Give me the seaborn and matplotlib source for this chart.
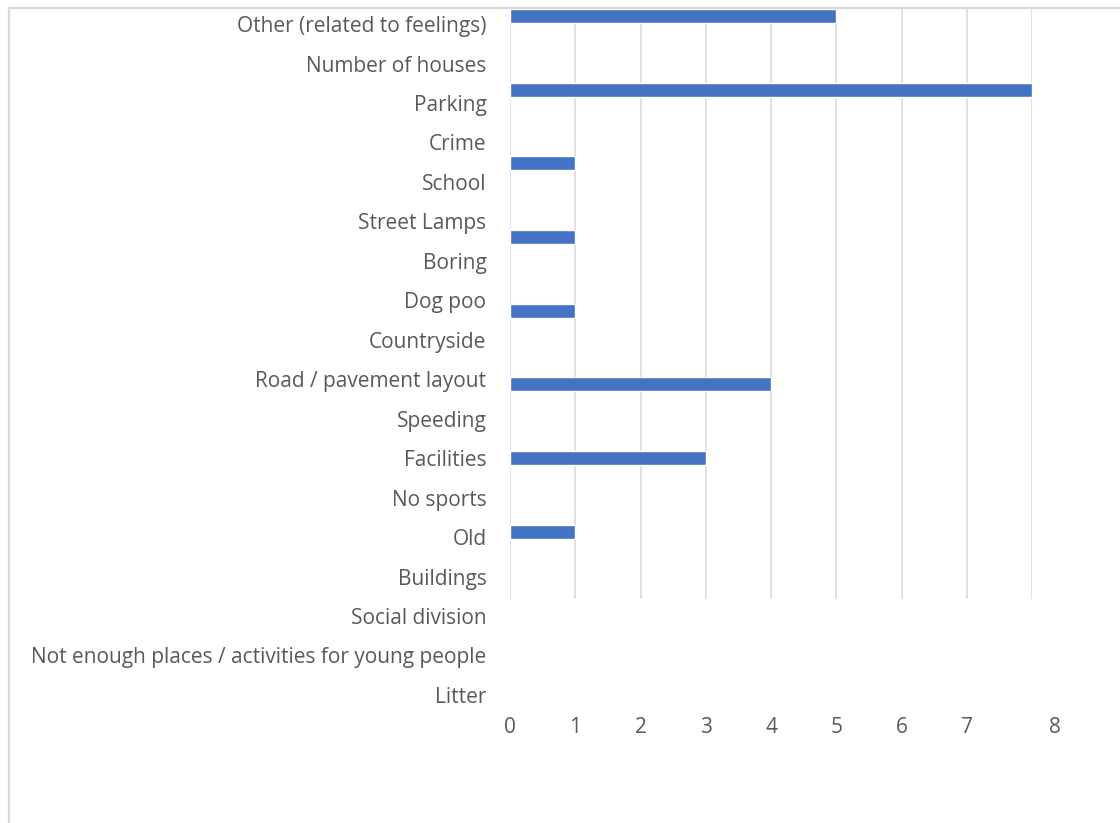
import matplotlib
matplotlib.use('Agg')
import matplotlib.transforms as mtransforms
import pandas as pd
import seaborn as sns
from matplotlib import pyplot as plt
from matplotlib.lines import Line2D

labels = ['Other (related to feelings)', 'Number of houses', 'Parking', 'Crime', 'School',
          'Street Lamps', 'Boring', 'Dog poo', 'Countryside', 'Road / pavement layout',
          'Speeding', 'Facilities', 'No sports', 'Old', 'Buildings', 'Social division',
          'Not enough places / activities for young people', 'Litter']
counts = [5, 0, 8, 0, 1, 1, 0, 1, 0, 4, 0, 3, 0, 1, 0, 0, 0, 0]
x_ticks = [0, 1, 2, 3, 4, 5, 6, 7, 8]

BAR = '#4472C4'
GRID = '#D9D9D9'
TEXT = '#595959'

df = pd.DataFrame({'label': labels, 'count': counts})
drawn = df[df['count'] > 0]

sns.set_theme(style='white')
plt.rcParams['font.family'] = ['Open Sans', 'DejaVu Sans']

W, H = 1120, 823
fig = plt.figure(figsize=(W / 100, H / 100), dpi=100)

def frac(left, top, right, bottom):
    return [left / W, 1 - bottom / H, (right - left) / W, (bottom - top) / H]

# bars (the rendering puts them on their own, wider band spacing)
ax = fig.add_axes(frac(510, 8, 1032, 599))
sns.barplot(data=drawn, x='count', y='label', color=BAR, saturation=1,
            width=0.19, ax=ax, zorder=3)
ax.set_xlim(0, 8)
ax.set_ylim(7.913, -0.106)
ax.set_xticks(x_ticks)
ax.grid(axis='x', color=GRID, linewidth=1.1, zorder=0)
ax.set_axisbelow(True)
ax.set_yticks([])
ax.set_xticklabels([])
ax.set_xlabel('')
ax.set_ylabel('')
ax.tick_params(length=0)
for s in ax.spines.values():
    s.set_visible(False)

# category labels and value axis labels
lab = fig.add_axes(frac(510, 4.3, 1032, 714.7))
lab.patch.set_visible(False)
lab.set_xlim(0, 8)
lab.set_ylim(len(labels) - 0.5, -0.5)
lab.set_yticks(range(len(labels)), labels)
lab.set_xticks(x_ticks, [str(t) for t in x_ticks])
lab.tick_params(axis='y', length=0, pad=17, labelsize=15, labelcolor=TEXT)
lab.tick_params(axis='x', length=0, pad=2, labelsize=15, labelcolor=TEXT)
for s in lab.spines.values():
    s.set_visible(False)
last = lab.get_xticklabels()[-1]
last.set_transform(last.get_transform() +
                   mtransforms.ScaledTranslation(0.23, 0, fig.dpi_scale_trans))

# chart area border (top and left edges are all that show)
top = 1 - 7.5 / H
left = 8.5 / W
fig.add_artist(Line2D([left, 1], [top, top], transform=fig.transFigure,
                      color=GRID, linewidth=1.6, zorder=5))
fig.add_artist(Line2D([left, left], [0, top], transform=fig.transFigure,
                      color=GRID, linewidth=1.6, zorder=5))

fig.savefig('out.png', dpi=100)
